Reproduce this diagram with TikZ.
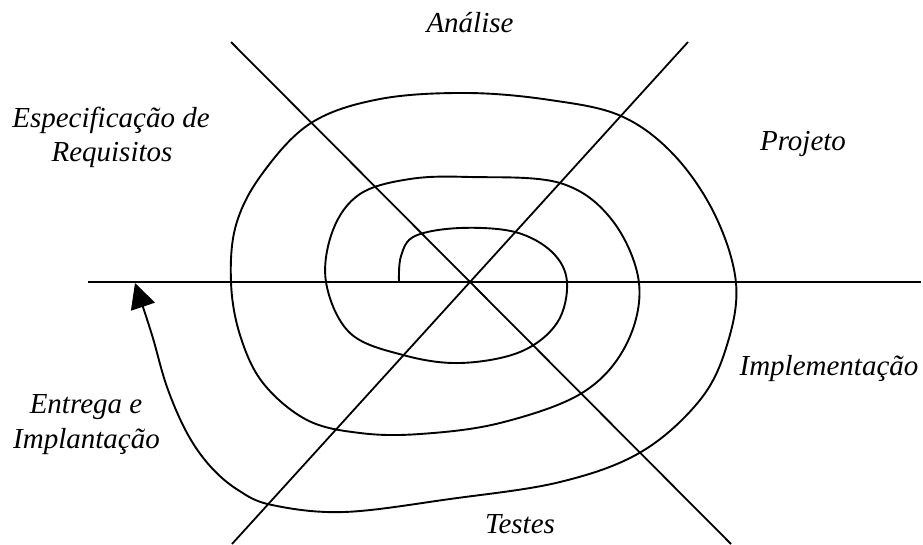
\documentclass[tikz,border=0pt]{standalone}
\usepackage{fontspec}
\setmainfont{Liberation Serif}
\usetikzlibrary{arrows.meta}
\tikzset{
  axis/.style={line width=1.8pt, black},
  spiral/.style={line width=1.9pt, black},
  lbl/.style={font=\itshape\fontsize{29}{34}\selectfont, inner sep=0pt, anchor=base}
}
\begin{document}
\begin{tikzpicture}[x=1pt, y=-1pt]
\useasboundingbox (0,0) rectangle (923,544);
% axes
\coordinate (hl) at (88,282);
\coordinate (hr) at (921,282);
\coordinate (d1a) at (231,42);
\coordinate (d1b) at (731,544);
\coordinate (d2a) at (688,42);
\coordinate (d2b) at (232,544);
\draw[axis] (hl) -- (hr);
\draw[axis] (d1a) -- (d1b);
\draw[axis] (d2a) -- (d2b);
% spiral
\coordinate (tip) at (135,283);
\draw[spiral, -{Triangle[length=25pt, width=25pt]}] plot[smooth, tension=0.6] coordinates {
 (399,282) (401,256) (415,236) (460,228) (515,232) (552,252) (567,282)
 (557,323) (520,352) (460,363) (403,355) (350,333) (326,282)
 (333,230) (360,194) (410,179) (470,177) (560,183) (612,220) (639,283)
 (626,345) (582,393) (500,423) (420,434) (360,433) (307,420) (263,383) (240,335) (231,282)
 (236,225) (262,174) (311,123) (380,99) (467,93) (550,100) (621,116) (674,155)
 (715,215) (736,283) (727,345) (700,400) (641,452) (560,482) (450,499) (344,512)
 (272,505) (238,490) (210,466) (187,433) (167,387) (152,335) (tip)};
% labels
\node[lbl] (analise) at (470,32) {Análise};
\node[lbl] (espec1) at (111,127) {Especificação de};
\node[lbl] (espec2) at (112,161) {Requisitos};
\node[lbl] (projeto) at (803,150) {Projeto};
\node[lbl] (impl) at (829,375) {Implementação};
\node[lbl] (entrega1) at (86,413) {Entrega e};
\node[lbl] (entrega2) at (86.5,448) {Implantação};
\node[lbl] (testes) at (520,533) {Testes};
\end{tikzpicture}
\end{document}
